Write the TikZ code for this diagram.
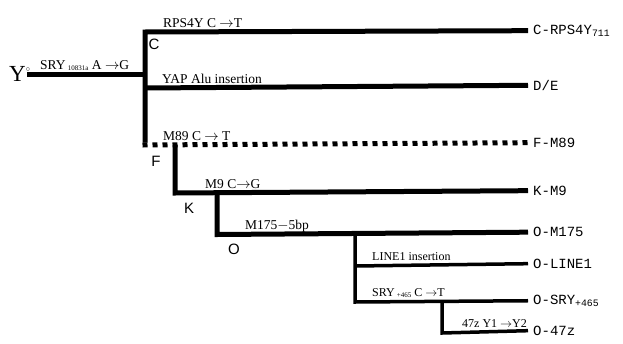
\documentclass[tikz,border=0pt]{standalone}
\usepackage{fontspec}
\setmainfont{Liberation Serif}
\newfontfamily\monofont{Liberation Mono}
\newfontfamily\sansfont{Liberation Sans}
\newcommand{\tinysub}[1]{\raisebox{-0.25ex}{\fontsize{7}{7}\selectfont #1}}
\begin{document}
\begin{tikzpicture}[x=1pt,y=-1pt,
  main/.style={line width=5pt,line join=miter},
  sub/.style={line width=3.5pt,line join=miter},
  dots/.style={line width=5pt,dash pattern=on 5pt off 5pt},
  lab/.style={font=\fontsize{13.5}{14}\selectfont,inner sep=0pt,anchor=base west},
  labs/.style={font=\fontsize{12}{12}\selectfont,inner sep=0pt,anchor=base west},
  tip/.style={font=\monofont\fontsize{14}{14}\selectfont,inner sep=0pt,anchor=mid west},
  hg/.style={font=\sansfont\fontsize{15}{15}\selectfont,inner sep=0pt}]
\useasboundingbox (0,0) rectangle (623,343);
% root
\node[font=\fontsize{23}{23}\selectfont,inner sep=0pt,anchor=base west] (Y) at (9,81) {Y\textsuperscript{\fontsize{8}{8}\selectfont$\circ$}};
\coordinate (r0) at (27,74);
\coordinate (b0) at (145,74);
\coordinate (cTop) at (145,32);
\coordinate (yapJ) at (145,88);
\coordinate (fJ) at (145,145);
\coordinate (kTop) at (175,145);
\coordinate (kJ) at (175,193);
\coordinate (oTop) at (217,193);
\coordinate (oJ) at (217,234.5);
\coordinate (lTop) at (355,234.5);
\coordinate (lJ) at (355,266);
\coordinate (sJ) at (355,302);
\coordinate (zTop) at (442,302);
\coordinate (zJ) at (442,333);
% tips
\node[tip] (tC) at (533,32) {C-RPS4Y\textsubscript{711}};
\node[tip] (tD) at (533,88) {D/E};
\node[tip] (tF) at (533,145) {F-M89};
\node[tip] (tK) at (533,193) {K-M9};
\node[tip] (tO) at (533,234.5) {O-M175};
\node[tip] (tL) at (533,266) {O-LINE1};
\node[tip] (tS) at (533,302) {O-SRY\textsubscript{+465}};
\node[tip] (tZ) at (533,333) {O-47z};
% branches
\draw[main] (r0) -- (b0);
\draw[main] ([yshift=2.5pt]fJ) -- (cTop) -- ([xshift=-5pt]tC.west);
\draw[main] (yapJ) -- ([xshift=-5pt]tD.west);
\draw[dots] ([xshift=-2.5pt]fJ) -- ([xshift=-5pt]tF.west);
\draw[main] (kTop) -- (kJ) -- ([xshift=-5pt]tK.west);
\draw[main] (oTop) -- (oJ) -- ([xshift=-5pt]tO.west);
\draw[sub] (lTop) -- (sJ) -- ([xshift=-5pt]tS.west);
\draw[sub] (lJ) -- ([xshift=-5pt]tL.west);
\draw[sub] (zTop) -- (zJ) -- ([xshift=-5pt]tZ.west);
% mutation labels
\node[lab] (mSRY) at (40,69) {SRY\,\tinysub{10831a} A $\rightarrow$G};
\node[lab] (mRPS) at (163,27) {RPS4Y C $\rightarrow$T};
\node[lab] (mYAP) at (162,83) {YAP Alu insertion};
\node[lab] (mM89) at (163,140) {M89 C $\rightarrow$ T};
\node[lab] (mM9) at (205,188) {M9 C$\rightarrow$G};
\node[lab] (mM175) at (245,229) {M175$-$5bp};
\node[labs] (mLINE) at (372,260) {LINE1 insertion};
\node[labs] (mSRY2) at (372,296) {SRY\,\tinysub{+465} C $\rightarrow$T};
\node[labs] (m47) at (462,327) {47z Y1 $\rightarrow$Y2};
% haplogroup letters
\node[hg] (hC) at (154,44) {C};
\node[hg] (hF) at (156,161) {F};
\node[hg] (hK) at (189,208) {K};
\node[hg] (hO) at (234,249) {O};
\end{tikzpicture}
\end{document}
